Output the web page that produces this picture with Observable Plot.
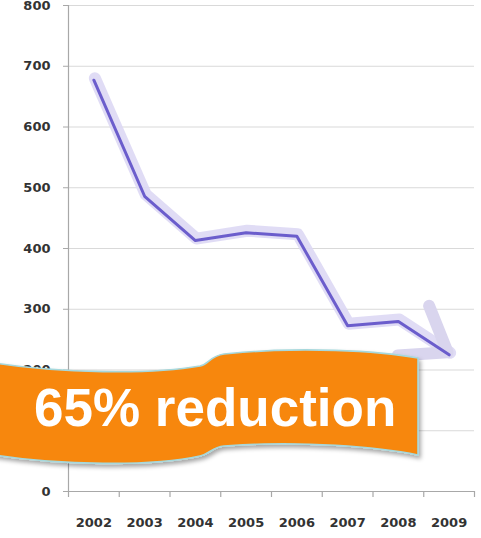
<!DOCTYPE html>
<html>
<head>
<meta charset="utf-8">
<script src="https://cdn.jsdelivr.net/npm/d3@7"></script>
<script src="https://cdn.jsdelivr.net/npm/@observablehq/plot@0.6"></script>
<style>
  html, body { margin: 0; padding: 0; background: #fff; }
  #chart { width: 481px; height: 538px; overflow: hidden; }
</style>
</head>
<body>
<div id="chart"></div>
<script>
// ---- data ----
const years = [2002, 2003, 2004, 2005, 2006, 2007, 2008, 2009];
const values = [677, 486, 413, 426, 420, 273, 280, 225];
const yTicks = [0, 100, 200, 300, 400, 500, 600, 700, 800];
const bannerLabel = "65% reduction";

const data = years.map((year, i) => ({ year, value: values[i] }));
const bounds = years.map(y => y - 0.5).concat([years[years.length - 1] + 0.5]);

const lineColor = "#6b5dcc";
const shadowColor = "#ddd8f4";
const axisColor = "#a8a8a8";
const gridColor = "#d9d9d9";

const plot = Plot.plot({
  width: 481,
  height: 538,
  marginLeft: 68,
  marginRight: 7,
  marginTop: 5,
  marginBottom: 47,
  style: {
    fontFamily: "DejaVu Sans, Verdana, sans-serif",
    fontSize: "13px",
    fontWeight: "bold",
    color: "#333",
    background: "#fff",
    overflow: "visible"
  },
  x: {
    domain: [bounds[0], bounds[bounds.length - 1]],
    ticks: years,
    tickFormat: d => String(d),
    tickSize: 0,
    tickPadding: 26,
    label: null
  },
  y: {
    domain: [0, 800],
    ticks: yTicks,
    tickSize: 5,
    tickPadding: 13,
    label: null
  },
  marks: [
    Plot.ruleY(yTicks.filter(d => d > 0), { stroke: gridColor, strokeWidth: 1 }),
    Plot.ruleY([0], { stroke: axisColor, strokeWidth: 1.2 }),
    Plot.ruleX([bounds[0]], { stroke: axisColor, strokeWidth: 1.2 }),
    Plot.ruleX(bounds, { y1: 0, y2: 0, insetBottom: -6, stroke: axisColor, strokeWidth: 1.2 }),
    Plot.line(data, {
      x: "year", y: "value",
      stroke: shadowColor, strokeWidth: 12, strokeOpacity: 0.9,
      strokeLinejoin: "round", strokeLinecap: "round",
      dx: 1, dy: -2
    }),
    Plot.line(data, {
      x: "year", y: "value",
      stroke: lineColor, strokeWidth: 3,
      strokeLinejoin: "round", strokeLinecap: "round"
    })
  ]
});

document.getElementById("chart").appendChild(plot);

const svg = d3.select(plot);

// y axis tick marks color
svg.selectAll('g[aria-label="y-axis"] line, g[aria-label="y-axis tick"] path').attr("stroke", axisColor);

// ---- arrowhead on the shadow trend, computed from the last two points via Plot's scales ----
try {
  const sx = plot.scale("x"), sy = plot.scale("y");
  const n = data.length;
  const p0 = [sx.apply(data[n - 2].year), sy.apply(data[n - 2].value)];
  const p1 = [sx.apply(data[n - 1].year) - 1, sy.apply(data[n - 1].value) - 2];
  const ang = Math.atan2(p0[1] - p1[1], p0[0] - p1[0]);
  const half = 36 * Math.PI / 180, len = 50;
  const a1 = [p1[0] + len * Math.cos(ang + half), p1[1] + len * Math.sin(ang + half)];
  const a2 = [p1[0] + len * Math.cos(ang - half), p1[1] + len * Math.sin(ang - half)];
  const lines = plot.querySelectorAll('g[aria-label="line"]');
  const head = document.createElementNS("http://www.w3.org/2000/svg", "path");
  head.setAttribute("d", `M${a1}L${p1}L${a2}`);
  head.setAttribute("fill", "none");
  head.setAttribute("stroke", "#d9d5ee");
  head.setAttribute("stroke-width", 12);
  head.setAttribute("stroke-linecap", "round");
  head.setAttribute("stroke-linejoin", "round");
  lines[1].parentNode.insertBefore(head, lines[1]);
} catch (e) { console.error(e); }

// ---- orange banner annotation ----
const defs = svg.append("defs");
const f = defs.append("filter").attr("id", "bshadow").attr("x", "-10%").attr("y", "-20%").attr("width", "130%").attr("height", "150%");
f.append("feDropShadow").attr("dx", 2).attr("dy", 3).attr("stdDeviation", 2.2)
  .attr("flood-color", "#000").attr("flood-opacity", 0.35);

const banner = svg.append("g").attr("aria-label", "banner");
banner.append("path")
  .attr("d", "M-6,363 C60,373 150,375 200,366 C209,364 210,356 224,354 C300,346 380,351 418,358 L418,455 C380,447 300,440 224,446 C212,447 210,454 200,456 C150,467 60,465 -6,455 Z")
  .attr("fill", "#f7870e")
  .attr("stroke", "#a6d8dc")
  .attr("stroke-width", 1.6)
  .attr("filter", "url(#bshadow)");
banner.append("text")
  .attr("x", 34)
  .attr("y", 426)
  .attr("text-anchor", "start")
  .attr("fill", "#fff")
  .attr("font-family", "Liberation Sans, Arial, sans-serif")
  .attr("font-weight", "bold")
  .attr("font-size", 53)
  .text(bannerLabel);
</script>
</body>
</html>
